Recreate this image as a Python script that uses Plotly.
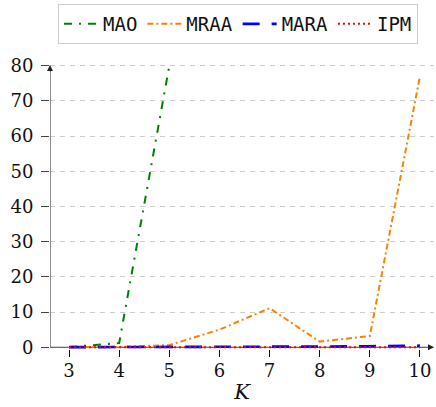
import plotly.graph_objects as go

# K values on the horizontal axis
k_values = [3, 4, 5, 6, 7, 8, 9, 10]
k_mao = [3, 4, 5]

# series values
mao = [0.05, 1.2, 80.0]
mraa = [0.0, 0.1, 0.6, 5.0, 11.1, 1.6, 3.2, 77.0]
mara = [0.02, 0.03, 0.05, 0.08, 0.15, 0.2, 0.3, 0.45]
ipm = [0.01, 0.01, 0.01, 0.02, 0.02, 0.02, 0.03, 0.03]

y_ticks = [0, 10, 20, 30, 40, 50, 60, 70, 80]

X_MIN, X_MAX = 2.62, 10.28
Y_MIN, Y_MAX = -0.5, 80.5

series = [
    ("MAO", k_mao, mao, "#008000", "8px,7px,2px,7px", 2),
    ("MRAA", k_values, mraa, "#ff8000", "6px,3px,2px,3px", 2),
    ("MARA", k_values, mara, "#0000ff", "17px,12px", 2.6),
    ("IPM", k_values, ipm, "#ff0000", "2px,3px", 2),
]

fig = go.Figure()
for name, xs, ys, color, dash, width in series:
    fig.add_trace(go.Scatter(
        x=xs, y=ys, name=name, mode="lines",
        line=dict(color=color, dash=dash, width=width),
    ))

axis_color = "#444444"

# axis lines drawn beneath the data, with arrow tips
fig.add_shape(type="line", xref="x", yref="y", x0=X_MIN, x1=X_MAX - 0.05, y0=0, y1=0,
              line=dict(color=axis_color, width=1.2), layer="between")
fig.add_shape(type="line", xref="x", yref="y", x0=X_MIN, x1=X_MIN, y0=0, y1=79.5,
              line=dict(color=axis_color, width=1.2), layer="between")
fig.add_annotation(x=X_MAX, y=0, ax=X_MAX - 0.1, ay=0, xref="x", yref="y",
                   axref="x", ayref="y", showarrow=True, arrowhead=2, arrowsize=1,
                   arrowwidth=1.2, arrowcolor="#222222", text="")
fig.add_annotation(x=X_MIN, y=80.2, ax=X_MIN, ay=78, xref="x", yref="y",
                   axref="x", ayref="y", showarrow=True, arrowhead=2, arrowsize=1,
                   arrowwidth=1.2, arrowcolor="#222222", text="")

serif = "DejaVu Serif"
mono = "DejaVu Sans Mono"
tick_font = dict(family=serif, size=18, color="#111111")

fig.update_layout(
    width=436, height=407,
    margin=dict(l=50, r=2, t=64, b=58),
    plot_bgcolor="white", paper_bgcolor="white",
    showlegend=True,
    legend=dict(
        orientation="h", xref="container", yref="container",
        x=58 / 436, y=1 - 4 / 407, xanchor="left", yanchor="top",
        bordercolor="#cccccc", borderwidth=1, bgcolor="white",
        font=dict(family=mono, size=19, color="#111111"),
        itemwidth=34, tracegroupgap=0,
    ),
    xaxis=dict(
        range=[X_MIN, X_MAX], tickvals=k_values, ticktext=[str(v) for v in k_values],
        ticks="outside", ticklen=7, tickcolor="#111111", tickwidth=1.2,
        showgrid=False, zeroline=False, showline=False,
        tickfont=tick_font, ticklabelstandoff=-2,
        title=dict(text="<i>K</i>", font=dict(family=serif, size=21, color="#111111"),
                   standoff=4),
    ),
    yaxis=dict(
        range=[Y_MIN, Y_MAX], tickvals=y_ticks, ticktext=[str(v) for v in y_ticks],
        ticks="outside", ticklen=8, tickcolor=axis_color, tickwidth=1.2,
        showgrid=True, gridcolor="#cccccc", griddash="5px,5px", gridwidth=1,
        zeroline=False, showline=False,
        tickfont=tick_font, ticklabelstandoff=4,
    ),
)

fig.write_html("out.html")
